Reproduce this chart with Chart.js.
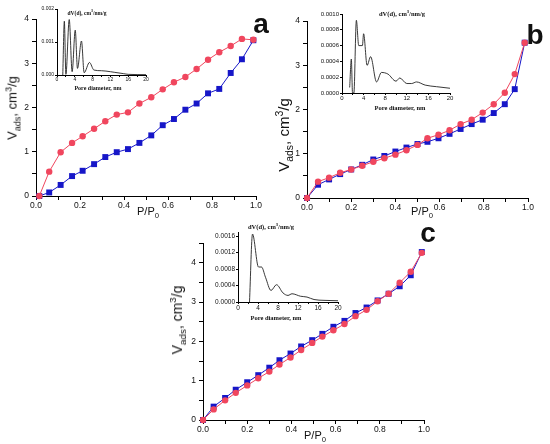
<!DOCTYPE html>
<html>
<head>
<meta charset="utf-8">
<script src="https://cdn.jsdelivr.net/npm/chart.js@4.4.1/dist/chart.umd.min.js"></script>
<style>
  html, body { margin: 0; padding: 0; background: #fff; }
  #fig { position: relative; width: 550px; height: 444px; overflow: hidden; font-family: "Liberation Sans", Arial, sans-serif; color: #111; }
  .box { position: absolute; }
  .box canvas { display: block; }
  .lbl { position: absolute; transform: translate(-50%, -50%); white-space: nowrap; line-height: 1; }
  .ytitle { transform: translate(-50%, -50%) rotate(-90deg); }
  .panel { font-size: 28px; font-weight: bold; }
  .itl { font-family: "Liberation Serif", serif; font-weight: bold; }
  sub, sup { font-size: 70%; line-height: 0; }
</style>
</head>
<body>
<div id="fig">
  <div class="box" id="boxA"><canvas id="chartA"></canvas></div>
  <div class="box" id="boxB"><canvas id="chartB"></canvas></div>
  <div class="box" id="boxC"><canvas id="chartC"></canvas></div>
  <div class="box" id="boxIA"><canvas id="insetA"></canvas></div>
  <div class="box" id="boxIB"><canvas id="insetB"></canvas></div>
  <div class="box" id="boxIC"><canvas id="insetC"></canvas></div>

  <div class="lbl ytitle" style="left:12px;top:108px;font-size:13px">V<sub>ads</sub>, cm<sup>3</sup>/g</div>
  <div class="lbl" style="left:148px;top:211px;font-size:11px">P/P<sub>0</sub></div>
  <div class="lbl panel" style="left:261px;top:24px">a</div>
  <div class="lbl itl" style="left:87px;top:14px;font-size:5.5px">dV(d), cm<sup>3</sup>/nm/g</div>
  <div class="lbl itl" style="left:98px;top:88px;font-size:6px">Pore diameter, nm</div>

  <div class="lbl ytitle" style="left:283px;top:135px;font-size:15px">V<sub>ads</sub>, cm<sup>3</sup>/g</div>
  <div class="lbl" style="left:422px;top:211px;font-size:11px">P/P<sub>0</sub></div>
  <div class="lbl panel" style="left:535px;top:35px">b</div>
  <div class="lbl itl" style="left:402px;top:14px;font-size:6.5px">dV(d), cm<sup>3</sup>/nm/g</div>
  <div class="lbl itl" style="left:400px;top:108px;font-size:6.5px">Pore diameter, nm</div>

  <div class="lbl ytitle" style="left:177px;top:320px;font-size:14px">V<sub>ads</sub>, cm<sup>3</sup>/g</div>
  <div class="lbl" style="left:315px;top:435px;font-size:11px">P/P<sub>0</sub></div>
  <div class="lbl panel" style="left:428px;top:233px">c</div>
  <div class="lbl itl" style="left:271px;top:227px;font-size:6.5px">dV(d), cm<sup>3</sup>/nm/g</div>
  <div class="lbl itl" style="left:276px;top:318px;font-size:6.5px">Pore diameter, nm</div>
</div>

<script>
// ---- isotherm data (P/P0 and adsorbed volume, cm3/g) ----
const aPressure = [0.015, 0.06, 0.112, 0.164, 0.212, 0.264, 0.315, 0.367, 0.418, 0.47, 0.524, 0.576, 0.627, 0.679, 0.73, 0.782, 0.833, 0.885, 0.936, 0.988];
const aRed  = [0, 0.55, 0.99, 1.20, 1.35, 1.52, 1.69, 1.84, 1.89, 2.09, 2.23, 2.41, 2.57, 2.69, 2.87, 3.08, 3.25, 3.39, 3.55, 3.53];
const aBlue = [0, 0.08, 0.25, 0.45, 0.57, 0.72, 0.88, 0.99, 1.06, 1.20, 1.37, 1.60, 1.74, 1.95, 2.09, 2.32, 2.42, 2.78, 3.09, 3.52];

const bPressure = [0, 0.05, 0.1, 0.15, 0.2, 0.25, 0.3, 0.35, 0.4, 0.45, 0.5, 0.545, 0.595, 0.645, 0.695, 0.745, 0.795, 0.845, 0.895, 0.94, 0.985];
const bRed  = [0, 0.37, 0.46, 0.57, 0.645, 0.73, 0.82, 0.90, 0.98, 1.08, 1.20, 1.35, 1.43, 1.53, 1.67, 1.77, 1.93, 2.12, 2.38, 2.80, 3.51];
const bBlue = [0, 0.30, 0.42, 0.54, 0.645, 0.75, 0.87, 0.95, 1.05, 1.14, 1.22, 1.27, 1.35, 1.45, 1.56, 1.67, 1.77, 1.92, 2.12, 2.46, 3.51];

const cPressure = [0, 0.048, 0.1, 0.148, 0.2, 0.25, 0.3, 0.346, 0.396, 0.444, 0.494, 0.54, 0.59, 0.64, 0.69, 0.74, 0.79, 0.84, 0.89, 0.94, 0.99];
const cRed  = [0, 0.27, 0.50, 0.69, 0.88, 1.06, 1.23, 1.41, 1.59, 1.78, 1.96, 2.12, 2.28, 2.44, 2.64, 2.80, 3.02, 3.21, 3.49, 3.77, 4.25];
const cBlue = [0, 0.34, 0.56, 0.77, 0.96, 1.14, 1.33, 1.52, 1.69, 1.87, 2.03, 2.19, 2.37, 2.52, 2.72, 2.86, 3.04, 3.21, 3.40, 3.68, 4.27];

// ---- pore size distributions (nm, cm3/nm/g) ----
const aPore = [1.3, 1.65, 2.0, 2.75, 3.4, 4.1, 4.6, 5.5, 6.1, 7.3, 8.3, 10, 12, 13, 15, 16, 20];
const aDv   = [0, 0.00163, 0.00002, 0.00168, 0.0001, 0.00136, 0.0002, 0.00103, 0.00007, 0.00038, 0.00015, 0.00013, 0.0001, 0.00008, 0.00004, 0.00002, 0.00001];

const bPore = [1.42, 1.73, 1.95, 2.2, 2.66, 3.1, 3.78, 4.0, 4.65, 5.3, 6.4, 7.3, 8.5, 10, 10.7, 12, 12.9, 13.8, 15.4, 17.5, 20];
const bDv   = [0.00007, 0.00043, 0, 0, 0.00092, 0.0006, 0.0006, 0.00075, 0.00035, 0.00046, 0.00014, 0.00026, 0.00024, 0.00015, 0.00019, 0.00012, 0.00012, 0.00014, 0.0001, 0.00008, 0.00006];

const cPore = [2.3, 2.9, 4.1, 4.7, 5.5, 6.6, 7.7, 9.0, 10, 10.8, 12.5, 13.8, 15.2, 17.2, 20];
const cDv   = [0, 0.00165, 0.00085, 0.00085, 0.0006, 0.00028, 0.00042, 0.00022, 0.00016, 0.0002, 0.00014, 0.00012, 0.00006, 0.00004, 0.00003];

const RED = '#f0465e';
const BLUE = '#1616c8';
const SANS = '"Liberation Sans", Arial, sans-serif';

const pairs = (xs, ys) => xs.map((x, i) => ({ x: x, y: ys[i] }));

const place = (id, left, top, width, height) => {
    const el = document.getElementById(id);
    el.style.left = left + 'px';
    el.style.top = top + 'px';
    el.style.width = width + 'px';
    el.style.height = height + 'px';
};

// plot area is fixed by forcing the axis sizes and the outer padding
place('boxA', 0, 9, 270, 207);
place('boxB', 276.7, 10.7, 265, 207);
place('boxC', 172.7, 233, 265, 207);
place('boxIA', 41, 4.3, 111, 80);
place('boxIB', 320.3, 9.3, 136, 93);
place('boxIC', 213.7, 226.6, 130, 84);

const axisBits = (tick) => ({
    border: { color: '#000', width: 1 },
    grid: { drawOnChartArea: false, color: '#000', tickLength: tick },
});

const createIsotherm = (id, xs, red, blue, yMax, yWidth) => {
    return new Chart(document.getElementById(id), {
        type: 'scatter',
        data: {
            datasets: [{
                data: pairs(xs, red),
                showLine: true,
                borderColor: RED,
                backgroundColor: RED,
                borderWidth: 1,
                pointStyle: 'circle',
                pointRadius: 3.2,
                pointBorderWidth: 0
            }, {
                data: pairs(xs, blue),
                showLine: true,
                borderColor: BLUE,
                backgroundColor: BLUE,
                borderWidth: 1,
                pointStyle: 'rect',
                pointRadius: 4.2,
                pointBorderWidth: 0
            }]
        },
        options: {
            responsive: true,
            maintainAspectRatio: false,
            animation: false,
            clip: false,
            layout: { padding: { top: 10, right: 14, left: 0, bottom: 0 } },
            scales: {
                x: {
                    type: 'linear',
                    min: 0,
                    max: 1,
                    afterFit: (s) => { s.height = 20; },
                    ...axisBits(4),
                    ticks: {
                        stepSize: 0.1,
                        autoSkip: false,
                        maxRotation: 0,
                        padding: 1,
                        color: '#111',
                        font: { family: SANS, size: 8.5 },
                        callback: (v) => (Math.round(v * 10) % 2 === 0 ? v.toFixed(1) : '')
                    }
                },
                y: {
                    type: 'linear',
                    min: 0,
                    max: yMax,
                    afterFit: (s) => { s.width = yWidth; },
                    ...axisBits(4),
                    ticks: {
                        stepSize: 0.5,
                        autoSkip: false,
                        padding: 3,
                        color: '#111',
                        font: { family: SANS, size: 8.5 },
                        callback: (v) => (Number.isInteger(v) ? String(v) : '')
                    }
                }
            },
            plugins: {
                legend: { display: false },
                tooltip: { enabled: false }
            }
        }
    });
};

const createInset = (id, xs, ys, yMax, yStep, decimals, yWidth, fontSize) => {
    return new Chart(document.getElementById(id), {
        type: 'scatter',
        data: {
            datasets: [{
                data: pairs(xs, ys),
                showLine: true,
                borderColor: '#222',
                borderWidth: 0.9,
                pointRadius: 0,
                cubicInterpolationMode: 'monotone'
            }]
        },
        options: {
            responsive: true,
            maintainAspectRatio: false,
            animation: false,
            layout: { padding: { top: 5, right: 6, left: 0, bottom: 0 } },
            scales: {
                x: {
                    type: 'linear',
                    min: 0,
                    max: 20,
                    afterFit: (s) => { s.height = 9; },
                    ...axisBits(2),
                    ticks: {
                        stepSize: 2,
                        autoSkip: false,
                        maxRotation: 0,
                        padding: 0,
                        color: '#111',
                        font: { family: SANS, size: fontSize },
                        callback: (v) => (v % 4 === 0 ? String(v) : '')
                    }
                },
                y: {
                    type: 'linear',
                    min: 0,
                    max: yMax,
                    afterFit: (s) => { s.width = yWidth; },
                    ...axisBits(2),
                    ticks: {
                        stepSize: yStep,
                        includeBounds: false,
                        autoSkip: false,
                        padding: 1,
                        color: '#111',
                        font: { family: SANS, size: fontSize },
                        callback: (v) => v.toFixed(decimals)
                    }
                }
            },
            plugins: {
                legend: { display: false },
                tooltip: { enabled: false }
            }
        }
    });
};

createIsotherm('chartA', aPressure, aRed, aBlue, 4, 36);
createIsotherm('chartB', bPressure, bRed, bBlue, 4, 30);
createIsotherm('chartC', cPressure, cRed, cBlue, 4.5, 30);

createInset('insetA', aPore, aDv, 0.002, 0.001, 3, 16, 5);
createInset('insetB', bPore, bDv, 0.001, 0.0002, 4, 22, 6);
createInset('insetC', cPore, cDv, 0.0017, 0.0004, 4, 24, 6.5);
</script>
</body>
</html>
